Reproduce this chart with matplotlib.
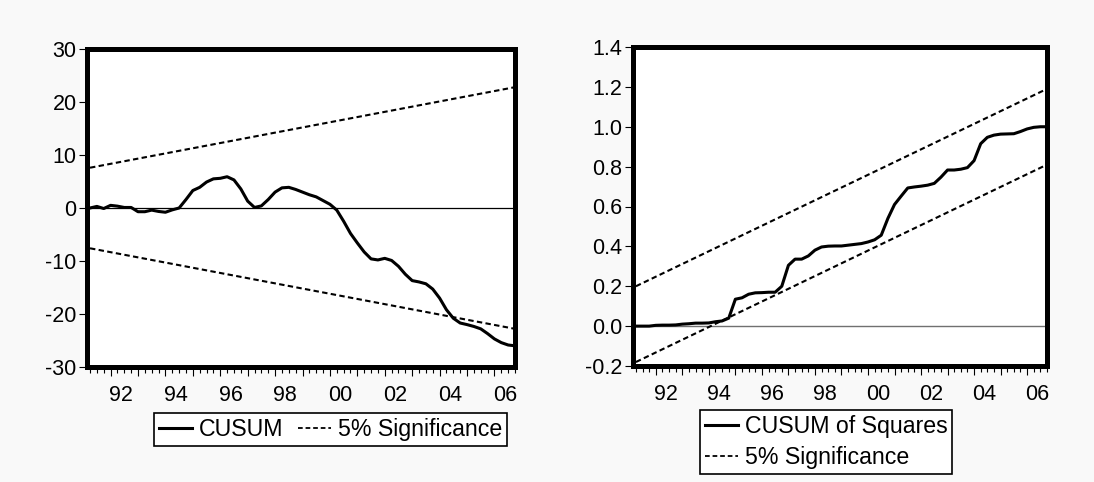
import matplotlib
matplotlib.use("Agg")
import matplotlib.pyplot as plt
import numpy as np
from matplotlib.ticker import FixedLocator, NullFormatter
from matplotlib.lines import Line2D

plt.rcParams['font.family'] = ['Liberation Sans', 'DejaVu Sans']

# ---- data (quarterly, 1991Q2 .. 2006Q4) ----
start_year = 1991.25
n_obs = 63
dates = start_year + 0.25 * np.arange(n_obs)

cusum = [0.0, 0.3, -0.1, 0.5, 0.35, 0.1, 0.1, -0.7, -0.7, -0.4,
         -0.65, -0.8, -0.35, 0.0, 1.6, 3.3, 3.9, 4.9, 5.5, 5.6,
         5.9, 5.3, 3.6, 1.3, 0.1, 0.4, 1.6, 3.0, 3.8, 3.9,
         3.5, 3.0, 2.5, 2.1, 1.4, 0.7, -0.4, -2.5, -4.8, -6.6,
         -8.3, -9.6, -9.8, -9.5, -9.9, -11.0, -12.5, -13.7, -13.95, -14.3,
         -15.3, -17.0, -19.2, -20.8, -21.7, -22.0, -22.35, -22.8, -23.7, -24.7,
         -25.4, -25.85, -26.0]

cusum_sq = [0.0, 0.0, 0.0, 0.004, 0.005, 0.005, 0.006, 0.01, 0.012, 0.015,
            0.015, 0.016, 0.022, 0.026, 0.04, 0.135, 0.142, 0.16, 0.167, 0.168,
            0.17, 0.17, 0.2, 0.305, 0.336, 0.336, 0.352, 0.381, 0.397, 0.401,
            0.402, 0.402, 0.406, 0.41, 0.414, 0.422, 0.433, 0.456, 0.54, 0.61,
            0.652, 0.693, 0.698, 0.702, 0.707, 0.716, 0.747, 0.783, 0.783, 0.787,
            0.795, 0.83, 0.915, 0.947, 0.958, 0.963, 0.964, 0.965, 0.976, 0.989,
            0.997, 1.0, 1.0]

# significance bounds (start, end)
cusum_upper = [7.6, 22.8]
cusum_lower = [-7.6, -22.8]
sq_upper = [0.20, 1.19]
sq_lower = [-0.18, 0.81]

left_yticks = [-30, -20, -10, 0, 10, 20, 30]
right_yticks = [-0.2, 0.0, 0.2, 0.4, 0.6, 0.8, 1.0, 1.2, 1.4]
label_years = [1992, 1994, 1996, 1998, 2000, 2002, 2004, 2006]

# ---- figure ----
W, H = 1094, 482
fig = plt.figure(figsize=(W / 100, H / 100), dpi=100, facecolor='#f9f9f9')

def px_axes(l, t, r, b):
    return fig.add_axes([l / W, 1 - b / H, (r - l) / W, (b - t) / H])

ax1 = px_axes(87, 49, 515, 367)
ax2 = px_axes(633, 47, 1047, 366)

xlim = (1991.14, 2006.75)
tick_fs = 15.5
leg_fs = 16.7
dash = (0, (2.6, 1.6))

def style(ax, ylim, yticks, yfmt):
    ax.set_facecolor('white')
    ax.set_xlim(*xlim)
    ax.set_ylim(*ylim)
    for s in ax.spines.values():
        s.set_linewidth(3.6)
        s.set_color('black')
    ax.set_yticks(yticks)
    ax.set_yticklabels([yfmt(v) for v in yticks])
    ax.tick_params(axis='y', direction='out', length=5.5, width=0.8,
                   labelsize=tick_fs, pad=2)
    years = np.arange(1992, 2007)
    quarters = np.arange(1991.25, 2006.8, 0.25)
    ax.xaxis.set_major_locator(FixedLocator(years))
    ax.xaxis.set_minor_locator(FixedLocator(quarters))
    ax.xaxis.set_major_formatter(NullFormatter())
    ax.tick_params(axis='x', which='major', direction='out', length=6.5,
                   width=0.8, pad=0)
    ax.tick_params(axis='x', which='minor', direction='out', length=4,
                   width=0.8)
    sec = ax.secondary_xaxis('bottom')
    sec.set_xticks([y + 0.375 for y in label_years])
    sec.set_xticklabels([f"{y % 100:02d}" for y in label_years])
    sec.tick_params(length=0, labelsize=tick_fs, pad=13)
    sec.spines['bottom'].set_visible(False)

# left panel: CUSUM
style(ax1, (-30, 30), left_yticks, lambda v: f"{v:d}")
ax1.axhline(0, color='black', lw=0.9, zorder=1)
ax1.plot(dates, cusum, color='black', lw=2.2, zorder=3)
ax1.plot([dates[0], dates[-1]], cusum_upper, color='black', lw=1.5,
         linestyle=dash, zorder=2)
ax1.plot([dates[0], dates[-1]], cusum_lower, color='black', lw=1.5,
         linestyle=dash, zorder=2)

# right panel: CUSUM of squares
style(ax2, (-0.2, 1.4), right_yticks, lambda v: f"{v:.1f}")
ax2.axhline(0, color='#707070', lw=1.0, zorder=1)
ax2.plot(dates, cusum_sq, color='black', lw=2.2, zorder=3)
ax2.plot([dates[0], dates[-1]], sq_upper, color='black', lw=1.5,
         linestyle=dash, zorder=2)
ax2.plot([dates[0], dates[-1]], sq_lower, color='black', lw=1.5,
         linestyle=dash, zorder=2)

def handles(first):
    return [Line2D([], [], color='black', lw=2.2, label=first),
            Line2D([], [], color='black', lw=1.3, linestyle=dash,
                   label='5% Significance')]

legkw = dict(fontsize=leg_fs, frameon=True, fancybox=False, edgecolor='black',
             framealpha=1, handlelength=1.4, handletextpad=0.3,
             borderpad=0.22, columnspacing=0.65,
             borderaxespad=0, loc='upper left')
l1 = fig.legend(handles=handles('CUSUM'), ncol=2, labelspacing=0.12,
                bbox_to_anchor=(154 / W, 1 - 413 / H), **legkw)
l2 = fig.legend(handles=handles('CUSUM of Squares'), ncol=1,
                labelspacing=0.35,
                bbox_to_anchor=(700 / W, 1 - 410 / H), **legkw)
for l in (l1, l2):
    l.get_frame().set_linewidth(1.2)

fig.savefig('out.png', dpi=100, facecolor=fig.get_facecolor())
